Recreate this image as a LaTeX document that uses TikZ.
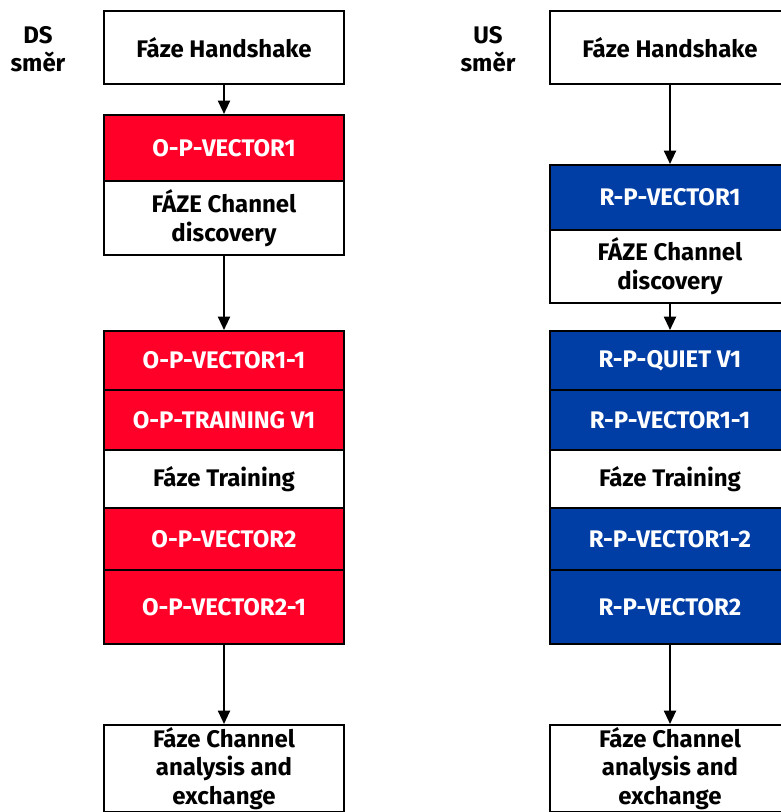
\documentclass[tikz,border=0pt]{standalone}
\usepackage{fontspec}
\setmainfont{Fira Sans}
\usetikzlibrary{arrows.meta}
\definecolor{dsred}{RGB}{255,0,41}
\definecolor{usblue}{RGB}{0,62,165}
\tikzset{
  phase/.style={draw, line width=1.5pt, minimum width=180pt, anchor=north, align=center,
    inner sep=0pt, font=\bfseries\fontsize{18}{21.5}\selectfont},
  dsvec/.style={phase, fill=dsred, text=white},
  usvec/.style={phase, fill=usblue, text=white},
  dirlabel/.style={align=center, font=\bfseries\fontsize{18}{21}\selectfont},
  flow/.style={line width=1.5pt, -{Triangle[length=10pt,width=9pt]}}
}
\begin{document}
\begin{tikzpicture}[x=0.75pt,y=-0.75pt]
\useasboundingbox (0,0) rectangle (780,812);
% DS direction
\node[dirlabel] (dsDir) at (38,49) {DS\\směr};
\node[phase, minimum height=54.75pt] (dsHs) at (224,10) {Fáze Handshake};
\node[dsvec, minimum height=49.5pt] (dsV1) at (224,114) {O-P-VECTOR1};
\node[phase, minimum height=55.5pt] (dsCd) at (224,180) {FÁZE Channel\\discovery};
\node[dsvec, minimum height=44.25pt] (dsV11) at (224,330) {O-P-VECTOR1-1};
\node[dsvec, minimum height=45pt] (dsTr) at (224,389) {O-P-TRAINING V1};
\node[phase, minimum height=43.5pt] (dsFt) at (224,449) {Fáze Training};
\node[dsvec, minimum height=46.5pt] (dsV2) at (224,507) {O-P-VECTOR2};
\node[dsvec, minimum height=55.5pt] (dsV21) at (224,569) {O-P-VECTOR2-1};
\node[phase, minimum height=65.25pt] (dsCa) at (224,724) {Fáze Channel\\analysis and\\exchange};
\draw[flow] (dsHs) -- (dsV1);
\draw[flow] (dsCd) -- (dsV11);
\draw[flow] (dsV21) -- (dsCa);
% US direction
\node[dirlabel] (usDir) at (488,49) {US\\směr};
\node[phase, minimum height=54.75pt] (usHs) at (670,10) {Fáze Handshake};
\node[usvec, minimum height=48.75pt] (usV1) at (670,164) {R-P-VECTOR1};
\node[phase, minimum height=54.75pt] (usCd) at (670,229) {FÁZE Channel\\discovery};
\node[usvec, minimum height=44.25pt] (usQ) at (670,330) {R-P-QUIET V1};
\node[usvec, minimum height=45pt] (usV11) at (670,389) {R-P-VECTOR1-1};
\node[phase, minimum height=43.5pt] (usFt) at (670,449) {Fáze Training};
\node[usvec, minimum height=46.5pt] (usV12) at (670,507) {R-P-VECTOR1-2};
\node[usvec, minimum height=55.5pt] (usV2) at (670,569) {R-P-VECTOR2};
\node[phase, minimum height=65.25pt] (usCa) at (670,724) {Fáze Channel\\analysis and\\exchange};
\draw[flow] (usHs) -- (usV1);
\draw[flow] (usCd) -- (usQ);
\draw[flow] (usV2) -- (usCa);
\end{tikzpicture}
\end{document}
